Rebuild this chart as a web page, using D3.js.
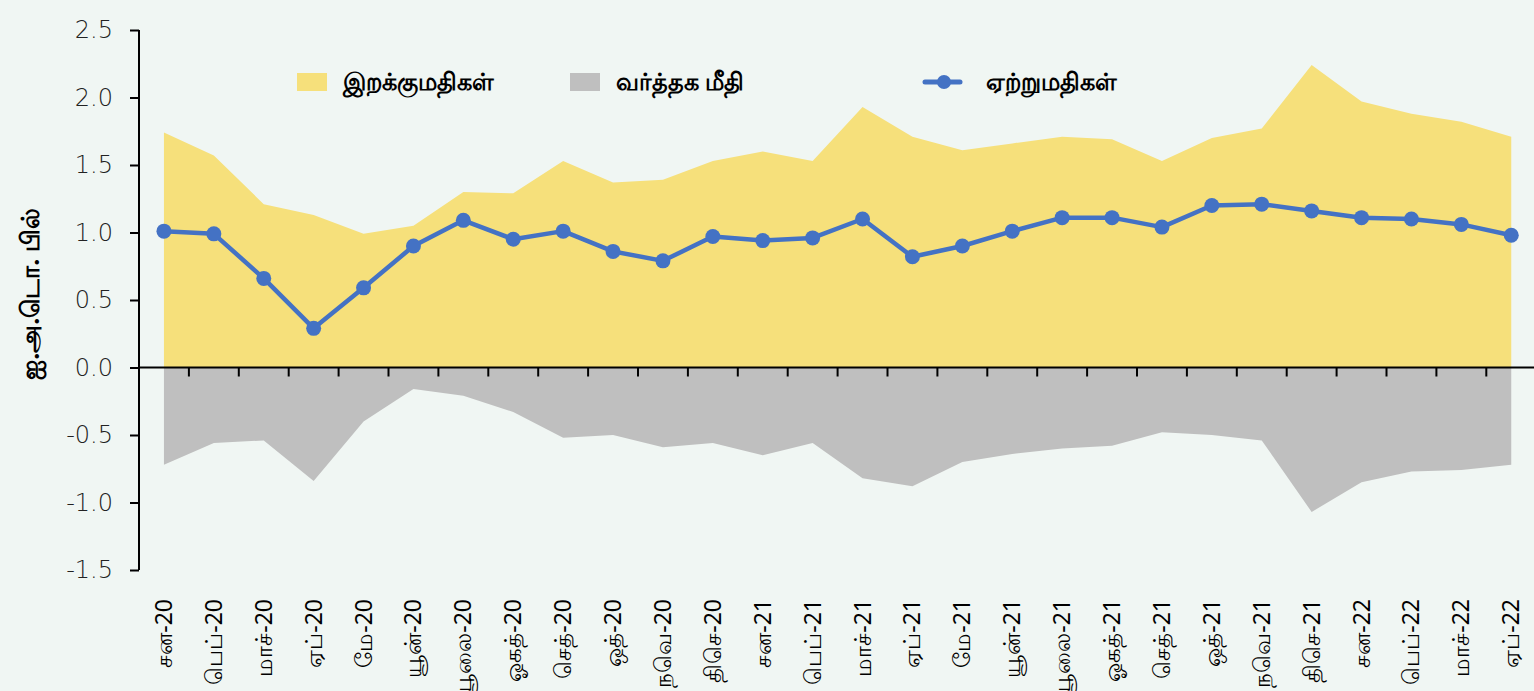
<!DOCTYPE html>
<html>
<head>
<meta charset="utf-8">
<script src="https://cdn.jsdelivr.net/npm/d3@7/dist/d3.min.js"></script>
<style>
  html, body { margin: 0; padding: 0; background: #f0f6f3; }
  svg { display: block; }
</style>
</head>
<body>
<div id="chart"></div>
<script>
(function() {

  var months = [
    'சன-20', 'பெப்-20', 'மாச்-20', 'ஏப்-20', 'மே-20', 'யூன்-20', 'யூலை-20', 'ஓகத்-20',
    'செத்-20', 'ஒத்-20', 'நவெ-20', 'திசெ-20', 'சன-21', 'பெப்-21', 'மாச்-21', 'ஏப்-21',
    'மே-21', 'யூன்-21', 'யூலை-21', 'ஓகத்-21', 'செத்-21', 'ஒத்-21', 'நவெ-21', 'திசெ-21',
    'சன-22', 'பெப்-22', 'மாச்-22', 'ஏப்-22'
  ];

  // இறக்குமதிகள் (imports)
  var imports = [
    1.74, 1.57, 1.21, 1.13, 0.99, 1.05, 1.30, 1.29, 1.53, 1.37, 1.39, 1.53, 1.60, 1.53,
    1.93, 1.71, 1.61, 1.66, 1.71, 1.69, 1.53, 1.70, 1.77, 2.24, 1.97, 1.88, 1.82, 1.71
  ];

  // ஏற்றுமதிகள் (exports)
  var exports = [
    1.01, 0.99, 0.66, 0.29, 0.59, 0.90, 1.09, 0.95, 1.01, 0.86, 0.79, 0.97, 0.94, 0.96,
    1.10, 0.82, 0.90, 1.01, 1.11, 1.11, 1.04, 1.20, 1.21, 1.16, 1.11, 1.10, 1.06, 0.98
  ];

  // வர்த்தக மீதி (trade balance)
  var balance = [
    -0.72, -0.56, -0.54, -0.84, -0.40, -0.16, -0.21, -0.33, -0.52, -0.50, -0.59, -0.56, -0.65, -0.56,
    -0.82, -0.88, -0.70, -0.64, -0.60, -0.58, -0.48, -0.50, -0.54, -1.07, -0.85, -0.77, -0.76, -0.72
  ];

  var yTicks = [-1.5, -1.0, -0.5, 0.0, 0.5, 1.0, 1.5, 2.0, 2.5];

  var legendItems = [
    { label: 'இறக்குமதிகள்', type: 'area', color: '#f6e07b', x: 297 },
    { label: 'வர்த்தக  மீதி', type: 'area', color: '#bfbfbf', x: 570 },
    { label: 'ஏற்றுமதிகள்', type: 'line', color: '#4472c4', x: 922 }
  ];

  var width = 1534, height = 691,
      margin = { top: 30, right: 0, bottom: 121, left: 139 };

  var svg = d3.select('#chart').append('svg')
      .attr('width', width)
      .attr('height', height);

  svg.append('rect')
      .attr('width', width)
      .attr('height', height)
      .attr('fill', '#f0f6f3');

  var x = d3.scaleBand()
      .domain(months)
      .range([margin.left, margin.left + 49.9 * months.length]);

  var y = d3.scaleLinear()
      .domain([-1.5, 2.5])
      .range([height - margin.bottom, margin.top]);

  var cx = function(i) { return x(months[i]) + x.bandwidth() / 2; };

  // areas
  var area = d3.area()
      .x(function(d, i) { return cx(i); })
      .y0(y(0))
      .y1(function(d) { return y(d); });

  svg.append('path')
      .datum(imports)
      .attr('d', area)
      .attr('fill', '#f6e07b');

  svg.append('path')
      .datum(balance)
      .attr('d', area)
      .attr('fill', '#bfbfbf');

  // y axis
  var yAxis = d3.axisLeft(y)
      .tickValues(yTicks)
      .tickSize(9)
      .tickPadding(17);

  var gy = svg.append('g')
      .attr('transform', 'translate(' + margin.left + ',0)')
      .call(yAxis);
  gy.select('.domain').attr('stroke', '#000').attr('stroke-width', 2)
      .attr('d', 'M0,' + y(2.5) + 'V' + y(-1.5));
  gy.selectAll('.tick line').attr('stroke', '#000').attr('stroke-width', 2);
  gy.selectAll('.tick text')
      .attr('fill', '#222')
      .attr('font-family', '"DejaVu Sans", sans-serif')
      .attr('font-weight', 300)
      .attr('font-size', 24)
      .text(function(d) { return d3.format('.1f')(d).replace('−', '-'); });

  // x axis on zero line
  var xAxisG = svg.append('g').attr('transform', 'translate(0,' + y(0) + ')');
  xAxisG.append('line')
      .attr('x1', margin.left).attr('x2', width)
      .attr('stroke', '#000').attr('stroke-width', 2);
  xAxisG.selectAll('line.tk')
      .data(months.slice(1))
      .enter().append('line')
      .attr('class', 'tk')
      .attr('x1', function(d) { return x(d); })
      .attr('x2', function(d) { return x(d); })
      .attr('y1', 0).attr('y2', 9)
      .attr('stroke', '#000').attr('stroke-width', 2);

  // x labels
  svg.append('g').selectAll('text')
      .data(months)
      .enter().append('text')
      .attr('transform', function(d, i) {
        return 'translate(' + (cx(i) + 8) + ',599) rotate(-90)';
      })
      .attr('text-anchor', 'end')
      .attr('font-family', '"Noto Sans", sans-serif')
      .attr('font-size', 23)
      .attr('fill', '#000')
      .text(function(d) { return d; });

  // exports line
  var line = d3.line()
      .x(function(d, i) { return cx(i); })
      .y(function(d) { return y(d); });

  svg.append('path')
      .datum(exports)
      .attr('d', line)
      .attr('fill', 'none')
      .attr('stroke', '#4472c4')
      .attr('stroke-width', 4.5)
      .attr('stroke-linejoin', 'round');

  svg.append('g').selectAll('circle')
      .data(exports)
      .enter().append('circle')
      .attr('cx', function(d, i) { return cx(i); })
      .attr('cy', function(d) { return y(d); })
      .attr('r', 7.5)
      .attr('fill', '#4472c4');

  // y label
  svg.append('text')
      .attr('transform', 'translate(39,294) rotate(-90)')
      .attr('text-anchor', 'middle')
      .attr('font-family', '"Noto Sans", sans-serif')
      .attr('font-weight', 'bold')
      .attr('font-size', 25)
      .attr('fill', '#000')
      .text('ஐ.அ.டொ.  பில்');

  // legend
  var lg = svg.append('g').selectAll('g')
      .data(legendItems)
      .enter().append('g')
      .attr('transform', function(d) { return 'translate(' + d.x + ',82)'; });

  lg.filter(function(d) { return d.type === 'area'; })
    .append('rect')
      .attr('x', 0).attr('y', -9)
      .attr('width', 30).attr('height', 18)
      .attr('fill', function(d) { return d.color; });

  var ll = lg.filter(function(d) { return d.type === 'line'; });
  ll.append('line')
      .attr('x1', 3).attr('x2', 38)
      .attr('y1', 0).attr('y2', 0)
      .attr('stroke', function(d) { return d.color; })
      .attr('stroke-width', 5)
      .attr('stroke-linecap', 'round');
  ll.append('circle')
      .attr('cx', 22).attr('cy', 0).attr('r', 7)
      .attr('fill', function(d) { return d.color; });

  lg.append('text')
      .attr('x', function(d) { return d.type === 'line' ? 64 : 46; })
      .attr('y', 0)
      .attr('dy', '0.35em')
      .attr('font-family', '"Noto Sans", sans-serif')
      .attr('font-weight', 'bold')
      .attr('font-size', 24)
      .attr('fill', '#000')
      .text(function(d) { return d.label; });

})();
</script>
</body>
</html>
